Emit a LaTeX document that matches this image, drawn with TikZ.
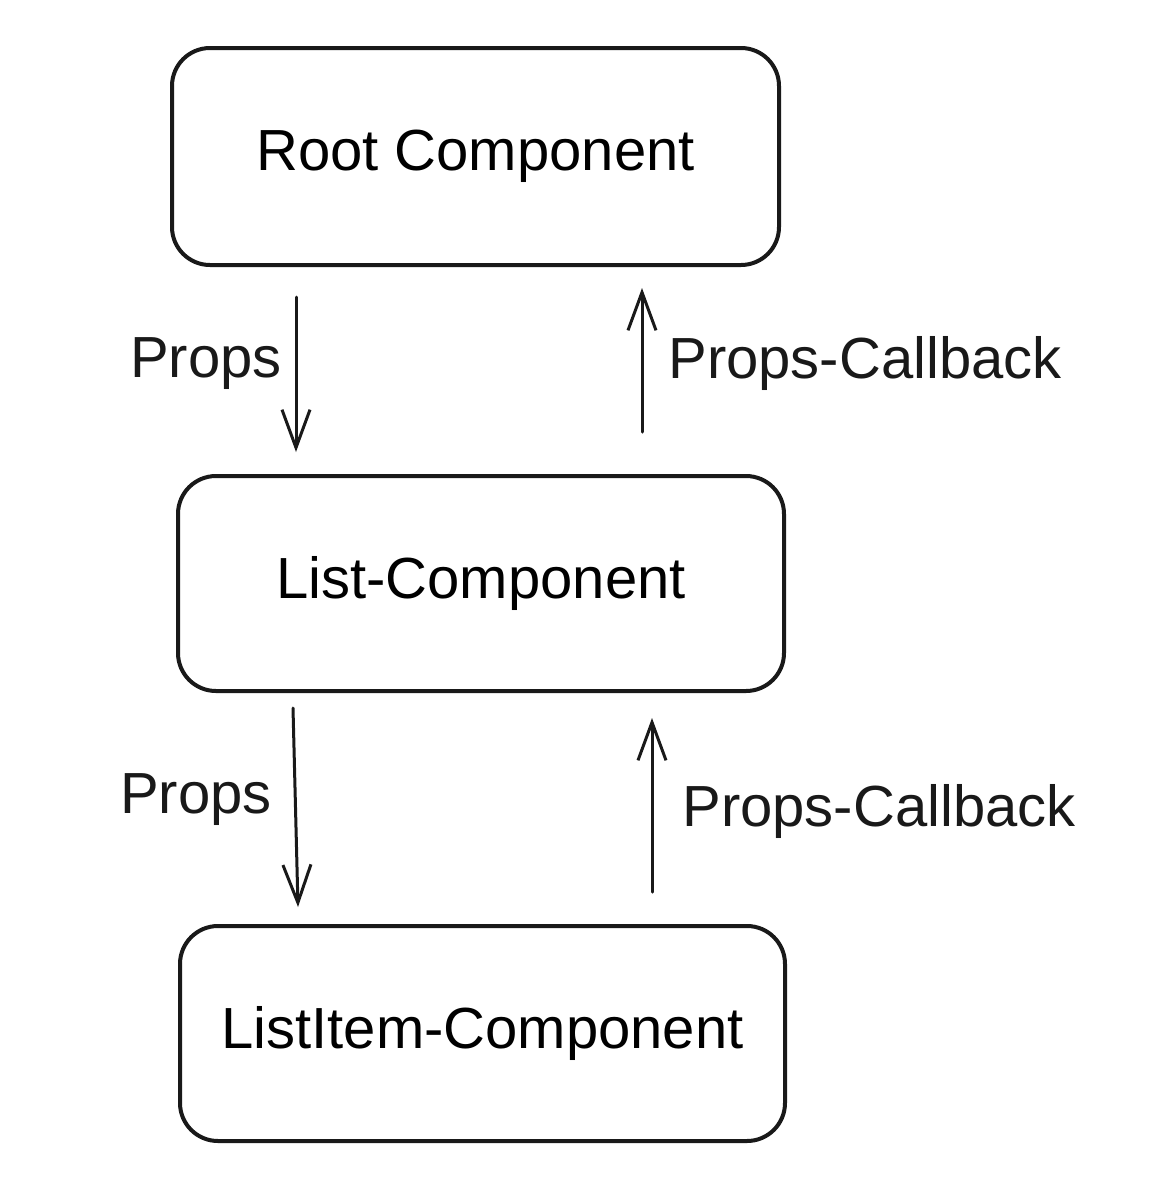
\documentclass[tikz,border=0pt]{standalone}
\usepackage{fontspec}
\setmainfont{Liberation Sans}
\usetikzlibrary{arrows.meta}
\tikzset{
  compbox/.style={draw=black!90, line width=2pt, rounded corners=19pt, fill=white,
    font=\fontsize{29}{35}\selectfont, align=center, inner sep=0pt},
  flow/.style={draw=black!90, line width=1.5pt, line cap=round, line join=round,
    -{Straight Barb[length=19pt,width=14pt,line width=1.5pt]}},
  lbl/.style={font=\fontsize{29}{35}\selectfont, inner sep=0pt, text=black!90}
}
\begin{document}
\begin{tikzpicture}[x=0.5pt,y=-0.5pt]
\useasboundingbox (0,0) rectangle (1153,1195);
\node[compbox, minimum width=303.5pt, minimum height=108.5pt] (root) at (475.5,156.5) {Root Component};
\node[compbox, minimum width=303pt, minimum height=107.5pt] (list) at (481,583.5) {List-Component};
\node[compbox, minimum width=302.5pt, minimum height=107.5pt] (item) at (482.5,1033.5) {ListItem-Component};

\coordinate (p1s) at (296,297);
\coordinate (p1e) at (296,452);
\coordinate (c1s) at (642,432);
\coordinate (c1e) at (642,288);
\coordinate (p2s) at (293,708);
\coordinate (p2e) at (298,907);
\coordinate (c2s) at (652,892);
\coordinate (c2e) at (652,718);

\draw[flow] (p1s) -- (p1e);
\draw[flow] (c1s) -- (c1e);
\draw[flow] (p2s) -- (p2e);
\draw[flow] (c2s) -- (c2e);

\node[lbl, anchor=base east] (lp1) at (282,377) {Props};
\node[lbl, anchor=base west] (lc1) at (668,378) {Props-Callback};
\node[lbl, anchor=base east] (lp2) at (272,813) {Props};
\node[lbl, anchor=base west] (lc2) at (682,826) {Props-Callback};
\end{tikzpicture}
\end{document}
